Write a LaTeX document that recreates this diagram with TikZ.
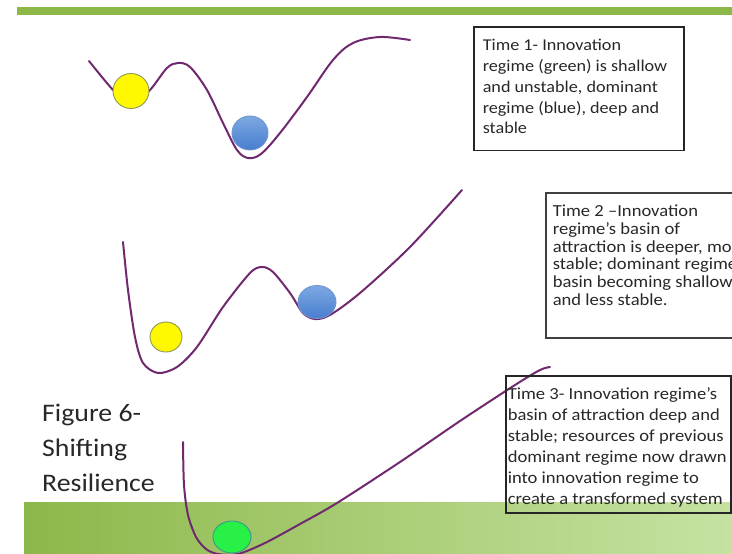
\documentclass[tikz,border=0pt]{standalone}
\usepackage{fontspec}
\setmainfont{Carlito}
\newfontfamily\slidefont[FakeStretch=1.1]{Carlito}
\usetikzlibrary{shapes.geometric}
\definecolor{valley}{RGB}{112,40,110}
\definecolor{leaf}{RGB}{140,184,74}
\definecolor{leaflight}{RGB}{198,226,162}
\definecolor{ink}{RGB}{40,40,40}
\definecolor{sun}{RGB}{255,248,0}
\definecolor{sunrim}{RGB}{140,150,90}
\definecolor{skytop}{RGB}{125,168,226}
\definecolor{skybot}{RGB}{72,126,206}
\definecolor{skyrim}{RGB}{110,150,210}
\definecolor{sprout}{RGB}{40,240,70}
\definecolor{sproutrim}{RGB}{60,150,140}

\begin{document}
\begin{tikzpicture}[x=1pt, y=-1pt,
  slope/.style={draw=valley, line width=2pt, line cap=round},
  ball/.style={ellipse, inner sep=0pt, line width=0.9pt},
  note/.style={draw=black!85, line width=1.6pt, anchor=north west, text=ink}]
\useasboundingbox (0,0) rectangle (732,554);
\clip (0,0) rectangle (732,554);
% slide bands
\fill[leaf] (17,7) rectangle (732,15);
\shade[left color=leaf, middle color=leaf, right color=leaflight] (24,502) rectangle (732,554);

% time 1
\draw[slope] plot[smooth, tension=0.55] coordinates {(89,61) (113,90) (131,106) (150,90) (167,68) (178,63) (190,67) (207,90) (223,123) (237,150) (248,158) (261,154) (280,133) (307,97) (333,60) (353,43) (380,37) (410,40)};
\node[ball, fill=sun, draw=sunrim, minimum width=36pt, minimum height=35pt] (y1) at (131,91) {};
\node[ball, top color=skytop, bottom color=skybot, draw=skyrim, minimum width=36pt, minimum height=34pt] (b1) at (250,133) {};

% time 2
\draw[slope] plot[smooth, tension=0.5] coordinates {(123,242) (128,290) (135,337) (143,363) (158,373) (177,367) (197,347) (223,307) (250,273) (262,267) (273,272) (290,293) (303,313) (315,319) (330,315) (360,293) (410,247) (462,190)};
\node[ball, fill=sun, draw=sunrim, minimum width=32pt, minimum height=30pt] (y2) at (166,337) {};
\node[ball, top color=skytop, bottom color=skybot, draw=skyrim, minimum width=38pt, minimum height=33pt] (b2) at (317,302) {};

% time 3
\draw[slope] plot[smooth, tension=0.5] coordinates {(183,442) (184,485) (188,515) (196,537) (206,549) (218,554) (238,554) (265,543) (300,524) (337,503) (400,462) (460,421) (515,385) (540,370) (550,367)};
\node[ball, fill=sprout, draw=sproutrim, minimum width=38pt, minimum height=32pt] (g3) at (232,537) {};

% notes
\node[note, inner xsep=9pt, inner ysep=9.4pt, font=\slidefont\fontsize{16.5}{20.8}\selectfont] (t1) at (473,26)
  {\parbox[t][105pt][t]{192pt}{\strut Time 1- Innovation\\regime (green) is shallow\\and unstable, dominant\\regime (blue), deep and\\stable}};
\node[note, draw=black!75, inner xsep=7pt, inner ysep=11.6pt, font=\slidefont\fontsize{16.9}{17.7}\selectfont] (t2) at (545,192)
  {\parbox[t][121.8pt][t]{240pt}{\strut Time 2 –Innovation\\regime’s basin of\\attraction is deeper, more\\stable; dominant regime’s\\basin becoming shallow\\and less stable.}};
\node[note, inner xsep=2pt, inner ysep=9.3pt, font=\slidefont\fontsize{16.9}{21}\selectfont] (t3) at (505,375)
  {\parbox[t][118.4pt][t]{221pt}{\strut Time 3- Innovation regime’s\\basin of attraction deep and\\stable; resources of previous\\dominant regime now drawn\\into innovation regime to\\create a transformed system}};

% caption
\node[anchor=base west, inner sep=0pt, text=ink, font=\slidefont\fontsize{25.3}{35}\selectfont] (fig) at (42,421)
  {\parbox[t]{150pt}{Figure 6-\\Shifting\\Resilience}};
\end{tikzpicture}
\end{document}
